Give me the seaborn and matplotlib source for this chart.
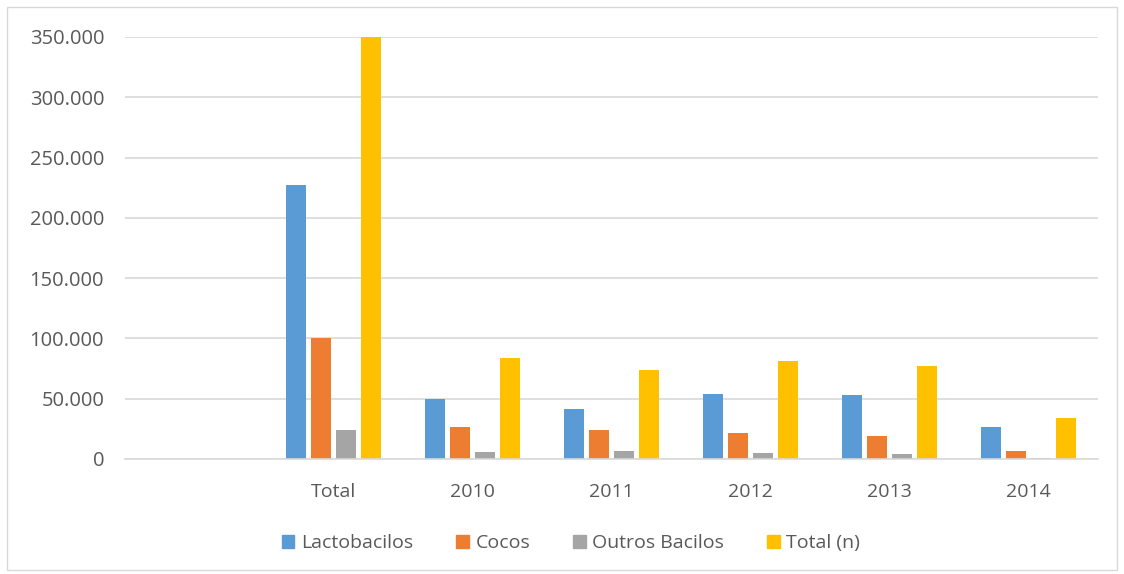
import matplotlib
matplotlib.use("Agg")
import matplotlib.pyplot as plt
from matplotlib.ticker import FuncFormatter, MultipleLocator
from matplotlib.patches import Rectangle
import seaborn as sns
import pandas as pd

categories = ["", "Total", "2010", "2011", "2012", "2013", "2014"]
groups = ["Total", "2010", "2011", "2012", "2013", "2014"]
lactobacilos = [227000, 50000, 41700, 53600, 53300, 26900]
cocos = [100000, 26800, 24400, 21700, 18900, 6300]
outros_bacilos = [24000, 6000, 6400, 5300, 4200, 1100]
total_n = [351000, 84100, 73600, 81400, 76900, 34400]
series_names = ["Lactobacilos", "Cocos", "Outros Bacilos", "Total (n)"]
colors = ["#5B9BD5", "#ED7D31", "#A5A5A5", "#FFC000"]

rows = []
for name, vals in zip(series_names, [lactobacilos, cocos, outros_bacilos, total_n]):
    for g, v in zip(groups, vals):
        rows.append({"cat": g, "serie": name, "valor": v})
df = pd.DataFrame(rows)

sns.set_theme(style="white")
plt.rcParams['font.family'] = ['Open Sans', 'DejaVu Sans']

fig = plt.figure(figsize=(11.24, 5.74), dpi=100)
ax = fig.add_axes([125/1124, 1 - 459/574, (1098-125)/1124, (459-37)/574])

sns.barplot(data=df, x="cat", y="valor", hue="serie", order=categories,
            hue_order=series_names, palette=colors, width=0.72, gap=0.2,
            ax=ax, errorbar=None, legend=False, saturation=1, linewidth=0)

ax.set_ylim(0, 350000)
ax.set_xlim(-0.5, len(categories) - 0.5)
ax.yaxis.set_major_locator(MultipleLocator(50000))
ax.yaxis.set_major_formatter(FuncFormatter(lambda v, p: f"{int(v):,}".replace(",", ".")))
ax.grid(axis="y", color="#D9D9D9", linewidth=1.2)
ax.set_axisbelow(True)
for s in ["top", "right", "left"]:
    ax.spines[s].set_visible(False)
ax.spines["bottom"].set_color("#D9D9D9")
ax.spines["bottom"].set_linewidth(1.2)
ax.tick_params(axis="both", length=0, colors="#595959")
ax.tick_params(axis="x", labelsize=14, pad=17)
ax.tick_params(axis="y", labelsize=14.5, pad=15)
ax.set_xlabel("")
ax.set_ylabel("")

handles = [Rectangle((0, 0), 1, 1, color=c) for c in colors]
fig.legend(handles, series_names, loc="center", bbox_to_anchor=(571/1124, 1 - 543/574),
           ncol=4, frameon=False, fontsize=14, handlelength=0.65, handleheight=0.65,
           handletextpad=0.35, columnspacing=2.2, labelcolor="#595959")

border = Rectangle((7/1124, 4/574), 1 - 14/1124, 1 - 11/574, transform=fig.transFigure,
                   fill=False, edgecolor="#D9D9D9", linewidth=1)
fig.patches.append(border)

fig.savefig("out.png", dpi=100)
